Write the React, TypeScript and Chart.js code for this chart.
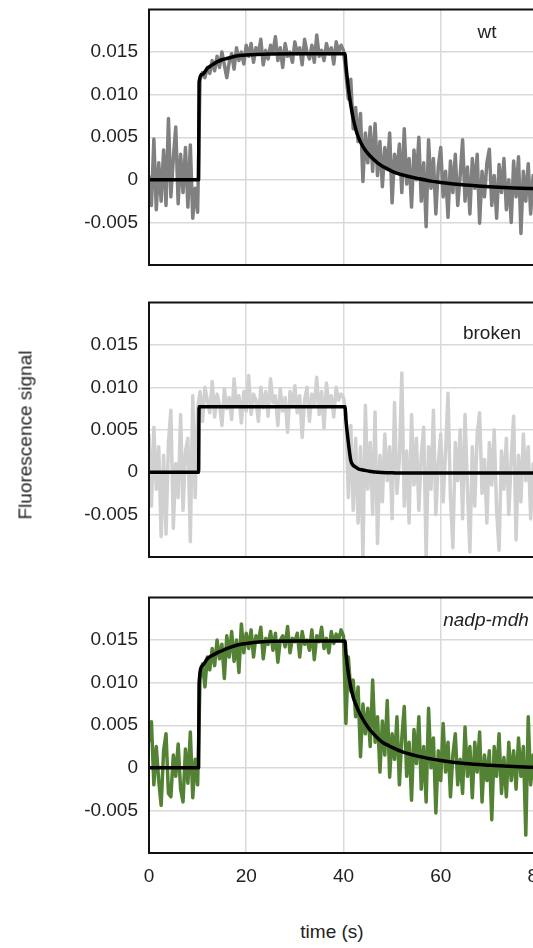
import React, { useEffect, useRef } from 'react';
import { Chart, registerables } from 'chart.js';

Chart.register(...registerables);

const FONT = "'Liberation Sans', Arial, Helvetica, sans-serif";
const TEXT = '#222222';

// ---- Raw traces, sampled every 0.5 s from 0 to 80 s, in units of 1e-4 ----
const wtSignal = [
  5, -30, 48, -35, 20, -25, 35, -30, 72, -20, 25, 62, -28, 30, -15, 38, -32, 41, -45, -10,
  -38,
  118, 126, 120, 132, 125, 140, 128, 145, 132, 150, 135, 120, 138, 148, 130, 155, 140, 150, 136, 158,
  145, 160, 138, 155, 148, 165, 135, 152, 142, 158, 150, 168, 140, 155, 132, 160, 145, 150, 138, 162,
  148, 155, 135, 165, 150, 142, 158, 138, 170, 145, 152, 140, 160, 148, 155, 136, 162, 150, 158, 152,
  125, 95, 118, 60, 85, 45, 78, -2, 55, 20,
  62, 10, 66, 5, 45, -8, 38, 12, 55, -27,
  30, 8, 42, -15, 60, -5, 25, -32, 35, 0,
  50, -25, 20, -55, 47, -10, 25, -40, 15, 38,
  -20, 10, -44, 22, -15, 30, -30, 5, 47, -25,
  15, -40, 25, -10, 30, -51, 10, -20, 20, 36,
  -30, 5, -45, 18, -15, 25, -35, 0, -50, 22,
  -20, 27, -63, 10, -25, 19, -40, 5, -30, 15,
];

const brokenSignal = [
  45, -40, 53, -20, 30, -76, 20, -73, 35, 73, -66, 10, -30, 68, -45, 25, 40, -82, 90, -30,
  75,
  95, 60, 100, 85, 70, 107, 65, 92, 80, 55, 98, 75, 88, 62, 110, 78, 90, 58, 95, 72,
  114, 68, 92, 85, 60, 100, 76, 95, 66, 110, 82, 90, 55, 98, 72, 88, 47, 95, 78, 102,
  70, 90, 41, 85, 100, 60, 92, 78, 112, 68, 95, 52, 105, 80, 90, 65, 100, 85, 92, 88,
  70, -30, 55, -45, 40, -60, 30, -100, 79, -20,
  35, -50, 71, -84, 20, -35, 45, -10, 30, -55,
  82, -25, 15, 117, -40, 25, -60, 68, -15, 40,
  -45, 20, 53, -100, 30, -20, 73, -50, 10, 45,
  -35, 25, 93, -30, -89, 35, -10, 50, -55, 68,
  -20, -94, 30, -40, 45, 70, -25, 15, -60, 35,
  -15, 50, -45, -92, 25, -20, 40, -50, 15, 66,
  -80, 20, -35, 45, -10, 30, -55, 10, -40, 25,
];

const nadpSignal = [
  30, 54, -20, 25, -15, -44, 20, 40, -30, -34, 15, -10, 28, -25, -40, 22, -18, 42, -35, 10,
  -20,
  105, 122, 95, 130, 115, 140, 120, 150, 128, 145, 105, 155, 130, 160, 125, 150, 112, 169, 135, 158,
  140, 162, 130, 155, 148, 165, 128, 152, 145, 160, 138, 158, 124, 150, 155, 142, 166, 135, 152, 148,
  158, 130, 160, 145, 150, 138, 162, 127, 155, 148, 165, 140, 152, 135, 160, 146, 157, 150, 162, 155,
  52, 130, 90, 103, 60, 95, 13, 75, 40, 70,
  25, 103, 30, 60, -5, 55, 15, 79, -11, 40,
  10, 60, -20, 35, 72, -10, 30, -38, 45, 5,
  60, -25, 25, -40, 70, 0, 35, -53, 20, -15,
  52, -5, 30, -34, 15, 40, -20, 10, -30, 48,
  -10, 25, -35, 30, -5, 42, -40, 15, -15, 20,
  -61, 25, -10, 40, -30, 12, -34, 30, -15, 20,
  -25, 35, -10, 25, -79, 60, -20, 15, -30, 10,
];

// ---- Fitted curves (units of 1e-4) at these times (s) ----
const fitTimes = [
  0, 10.2, 10.3, 11, 12, 13, 14, 15, 16, 17, 18, 20, 22, 25, 30, 35, 40.3,
  40.5, 41, 41.5, 42, 42.5, 43, 44, 45, 46, 47, 48, 49, 50, 52, 55, 58, 60, 65, 70, 75, 80,
];
const wtFit = [
  0, 0, 115, 124, 131, 135, 138.5, 141, 142.5, 144, 145.5, 146.5, 147.2, 147.8, 148, 148, 148,
  135, 108, 88, 72, 60, 51, 39, 31, 25, 20, 16, 13, 10, 6, 2, -1.5, -3, -6, -8, -9.5, -10.5,
];
const brokenFit = [
  0, 0, 77, 77, 77, 77, 77, 77, 77, 77, 77, 77, 77, 77, 77, 77, 77,
  62, 35, 14, 8, 6, 4, 2.5, 1.5, 0.5, 0, -0.5, -0.7, -0.8, -1, -1, -1, -1, -1, -1, -1, -1,
];
const nadpFit = [
  0, 0, 99, 120, 128, 132, 135, 137.5, 140, 142, 144, 146, 147.5, 148.5, 149, 149, 149,
  135, 111, 95, 83, 75, 68, 57, 48, 41, 35, 30, 27, 24, 19, 14, 10.5, 8.5, 5, 3, 1.5, 0.5,
];

const xTickValues = [0, 20, 40, 60, 80];
const yTickValues = [-0.005, 0, 0.005, 0.01, 0.015];

const SAMPLE_STEP = 0.5;
const sampleTimes = wtSignal.map((_, i) => i * SAMPLE_STEP);

const UNIT = 1e-4;

// ---- layout ----
const CANVAS_W = 600;
const AREA_LEFT = 149;
const PX_PER_S = 4.862;
const X_MAX = 85;
const PAD_TOP = 20;

type PanelSpec = {
  name: string;
  italic: boolean;
  signal: number[];
  fit: number[];
  color: string;
  areaTop: number;
  areaHeight: number;
  showX: boolean;
  labelDx: number;
  labelDy: number;
};

const panels: PanelSpec[] = [
  { name: 'wt', italic: false, signal: wtSignal, fit: wtFit, color: '#808080', areaTop: 9, areaHeight: 256, showX: false, labelDx: 338, labelDy: 28 },
  { name: 'broken', italic: false, signal: brokenSignal, fit: brokenFit, color: '#d0d0d0', areaTop: 302, areaHeight: 255, showX: false, labelDx: 343, labelDy: 36 },
  { name: 'nadp-mdh', italic: true, signal: nadpSignal, fit: nadpFit, color: '#548235', areaTop: 597, areaHeight: 256, showX: true, labelDx: 337, labelDy: 28 },
];

const X_TICK_PAD = 14;
const X_AXIS_H = 19 + X_TICK_PAD;
const PAD_BOTTOM_X = 10;
const PAD_BOTTOM = 22;

function canvasHeight(p: PanelSpec) {
  return PAD_TOP + p.areaHeight + (p.showX ? X_AXIS_H + PAD_BOTTOM_X : PAD_BOTTOM);
}

function Panel({ spec }: { spec: PanelSpec }) {
  const ref = useRef<HTMLCanvasElement | null>(null);

  useEffect(() => {
    const canvas = ref.current;
    if (!canvas) return;

    const framePlugin = {
      id: 'panelFrame',
      afterDatasetsDraw(chart: any) {
        const { ctx, chartArea: a } = chart;
        ctx.save();
        ctx.strokeStyle = '#111111';
        ctx.lineWidth = 2;
        ctx.strokeRect(a.left, a.top, a.right - a.left, a.bottom - a.top);
        ctx.font = `${spec.italic ? 'italic ' : ''}19px ${FONT}`;
        ctx.fillStyle = TEXT;
        ctx.textAlign = 'center';
        ctx.textBaseline = 'alphabetic';
        ctx.fillText(spec.name, a.left + spec.labelDx, a.top + spec.labelDy);
        ctx.restore();
      },
    };

    const tickFont = { family: FONT, size: 19, lineHeight: 1 };

    const chart = new Chart(canvas, {
      type: 'line',
      data: {
        datasets: [
          {
            label: spec.name + ' fit',
            data: fitTimes.map((t, i) => ({ x: t, y: spec.fit[i] * UNIT })),
            borderColor: '#000000',
            borderWidth: 3.5,
            pointRadius: 0,
            cubicInterpolationMode: 'monotone',
            borderJoinStyle: 'round',
            borderCapStyle: 'round',
            order: 0,
          },
          {
            label: spec.name,
            data: sampleTimes.map((t, i) => ({ x: t, y: spec.signal[i] * UNIT })),
            borderColor: spec.color,
            borderWidth: 3.5,
            pointRadius: 0,
            tension: 0,
            borderJoinStyle: 'round',
            order: 1,
          },
        ],
      },
      options: {
        animation: false,
        responsive: false,
        maintainAspectRatio: false,
        events: [],
        layout: {
          padding: {
            top: PAD_TOP,
            bottom: spec.showX ? PAD_BOTTOM_X : PAD_BOTTOM,
            left: 0,
            right: CANVAS_W - (AREA_LEFT + X_MAX * PX_PER_S),
          },
        },
        plugins: {
          legend: { display: false },
          tooltip: { enabled: false },
        },
        scales: {
          x: {
            type: 'linear',
            min: 0,
            max: X_MAX,
            afterBuildTicks: (s: any) => {
              s.ticks = xTickValues.map((v) => ({ value: v }));
            },
            afterFit: (s: any) => {
              s.height = spec.showX ? X_AXIS_H : 0;
            },
            ticks: {
              display: spec.showX,
              padding: X_TICK_PAD,
              font: tickFont,
              color: TEXT,
              maxRotation: 0,
              autoSkip: false,
            },
            grid: { color: '#d9d9d9', lineWidth: 1.5, drawTicks: false },
            border: { display: false },
          },
          y: {
            type: 'linear',
            min: -0.01,
            max: 0.02,
            afterBuildTicks: (s: any) => {
              s.ticks = yTickValues.map((v) => ({ value: v }));
            },
            afterFit: (s: any) => {
              s.width = AREA_LEFT;
            },
            ticks: {
              padding: 11,
              font: tickFont,
              color: TEXT,
              callback: (v: any) => (Math.abs(Number(v)) < 1e-9 ? '0' : Number(v).toFixed(3)),
            },
            grid: { color: '#d9d9d9', lineWidth: 1.5, drawTicks: false },
            border: { display: false },
          },
        },
      } as any,
      plugins: [framePlugin],
    });

    return () => chart.destroy();
  }, [spec]);

  const h = canvasHeight(spec);
  return (
    <canvas
      ref={ref}
      width={CANVAS_W}
      height={h}
      style={{
        position: 'absolute',
        left: 0,
        top: spec.areaTop - PAD_TOP,
        width: CANVAS_W,
        height: h,
        display: 'block',
      }}
    />
  );
}

export default function App() {
  return (
    <div
      style={{
        position: 'absolute',
        left: 0,
        top: 0,
        width: 533,
        height: 948,
        overflow: 'hidden',
        background: '#ffffff',
        fontFamily: FONT,
        color: TEXT,
      }}
    >
      {panels.map((p) => (
        <Panel key={p.name} spec={p} />
      ))}
      <div
        style={{
          position: 'absolute',
          left: 25,
          top: 435,
          fontSize: 19,
          lineHeight: '19px',
          whiteSpace: 'nowrap',
          transform: 'translate(-50%, -50%) rotate(-90deg)',
        }}
      >
        Fluorescence signal
      </div>
      <div
        style={{
          position: 'absolute',
          left: 332,
          top: 922,
          fontSize: 19,
          lineHeight: '19px',
          whiteSpace: 'nowrap',
          transform: 'translateX(-50%)',
        }}
      >
        time (s)
      </div>
    </div>
  );
}
